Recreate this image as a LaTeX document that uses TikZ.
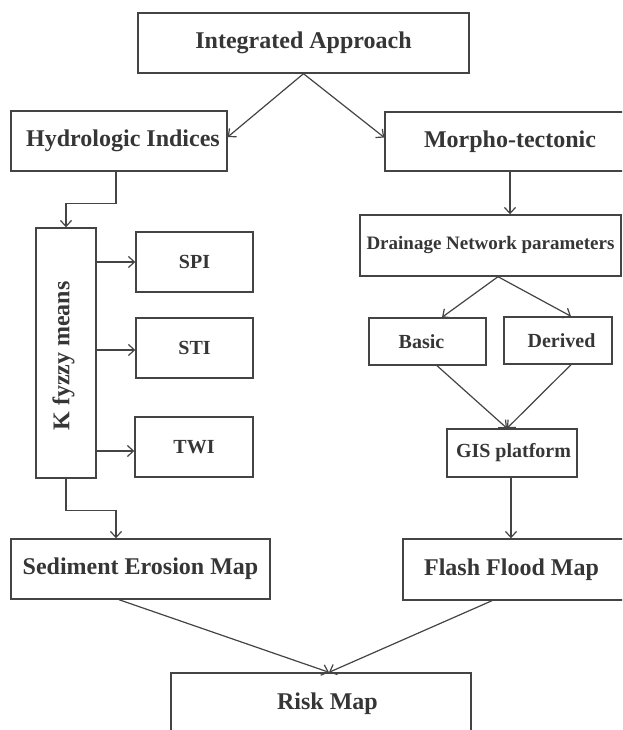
\documentclass[tikz,border=0pt]{standalone}
\usepackage{fontspec}
\setmainfont{Liberation Serif}
\usetikzlibrary{arrows.meta}
\definecolor{ln}{HTML}{444444}
\definecolor{tx}{HTML}{363636}
\tikzset{
  box/.style={draw=ln, line width=1.4pt, rectangle, inner sep=0pt, text=tx, font=\bfseries\fontsize{24}{28}\selectfont},
  small/.style={font=\bfseries\fontsize{20}{24}\selectfont},
  smaller/.style={font=\bfseries\fontsize{19}{23}\selectfont},
  txt/.style={text=tx, inner sep=0pt, font=\bfseries\fontsize{24}{28}\selectfont},
  arr/.style={draw=ln, line width=1.2pt, -{Straight Barb[length=6pt,width=11pt,line width=1.2pt]}},
  ln/.style={draw=ln, line width=1.2pt}
}
\begin{document}
\begin{tikzpicture}[x=1pt,y=-1pt]
\clip (0,0) rectangle (622,730);
\fill[white] (0,0) rectangle (622,730);
\node[box, minimum width=331pt, minimum height=60pt] (ia) at (303.5,43) {Integrated Approach};
\node[box, minimum width=216pt, minimum height=60pt] (hi) at (119,141) {\hspace*{8pt}Hydrologic Indices};
\node[box, minimum width=239pt, minimum height=59pt] (mt) at (504.5,141.5) {\hspace*{11pt}Morpho-tectonic};
\node[box, minimum width=60pt, minimum height=250pt] (kf) at (66,353) {};
\node[txt, rotate=90] (kft) at (63.5,356) {K fyzzy means};
\node[box, small, minimum width=117pt, minimum height=60pt] (spi) at (194.5,262) {SPI};
\node[box, small, minimum width=117pt, minimum height=60pt] (sti) at (194.5,348) {STI};
\node[box, small, minimum width=118pt, minimum height=60pt] (twi) at (194,447) {TWI};
\node[box, smaller, minimum width=261pt, minimum height=61pt] (dn) at (490.5,245.5) {Drainage Network parameters};
\node[box, small, minimum width=117pt, minimum height=47pt] (ba) at (427.5,341.5) {Basic\hspace*{12pt}};
\node[box, small, minimum width=108pt, minimum height=47pt] (de) at (558,340.5) {\hspace*{7pt}Derived};
\node[box, small, minimum width=130pt, minimum height=48pt] (gis) at (512,453) {\hspace*{3pt}GIS platform};
\node[box, minimum width=259pt, minimum height=60pt] (sed) at (140.5,569) {Sediment Erosion Map};
\node[box, minimum width=221pt, minimum height=61pt] (ff) at (513.5,569.5) {Flash Flood Map\hspace*{4pt}};
\node[box, minimum width=300pt, minimum height=62pt] (rm) at (321,704) {\hspace*{13pt}Risk Map};
% connectors
\draw[arr] (ia.south) -- ([yshift=4pt]hi.east);
\draw[arr] (ia.south) -- ([yshift=4pt]mt.west);
\draw[arr] ([xshift=-3pt]hi.south) -- ++(0pt,-32pt) -| (kf.north);
\draw[arr] (kf.east |- spi.west) -- (spi.west);
\draw[arr] ([yshift=-2pt]kf.east |- sti.west) -- ([yshift=-2pt]sti.west);
\draw[arr] ([yshift=-4pt]kf.east |- twi.west) -- ([yshift=-4pt]twi.west);
\draw[arr] (kf.south) -- ++(0pt,-32pt) -| ([xshift=-24.5pt]sed.north);
\draw[arr] ([xshift=5.5pt]mt.south) -- ([xshift=5.5pt]mt.south |- dn.north);
\draw[arr] ([xshift=7.5pt]dn.south) -- ([xshift=14.5pt]ba.north);
\draw[arr] ([xshift=7.5pt]dn.south) -- ([xshift=13pt]de.north);
\draw[arr] ([xshift=9.5pt]ba.south) -- ([xshift=-5pt]gis.north);
\draw[arr] ([xshift=13pt]de.south) -- ([xshift=-5pt]gis.north);
\draw[arr] ([xshift=-1pt]gis.south) -- ([xshift=-1pt]gis.south |- ff.north);
\draw[arr] ([xshift=-21.5pt]sed.south) -- ([xshift=8pt]rm.north);
\draw[arr] ([xshift=-21.5pt]ff.south) -- ([xshift=8pt]rm.north);
\end{tikzpicture}
\end{document}
